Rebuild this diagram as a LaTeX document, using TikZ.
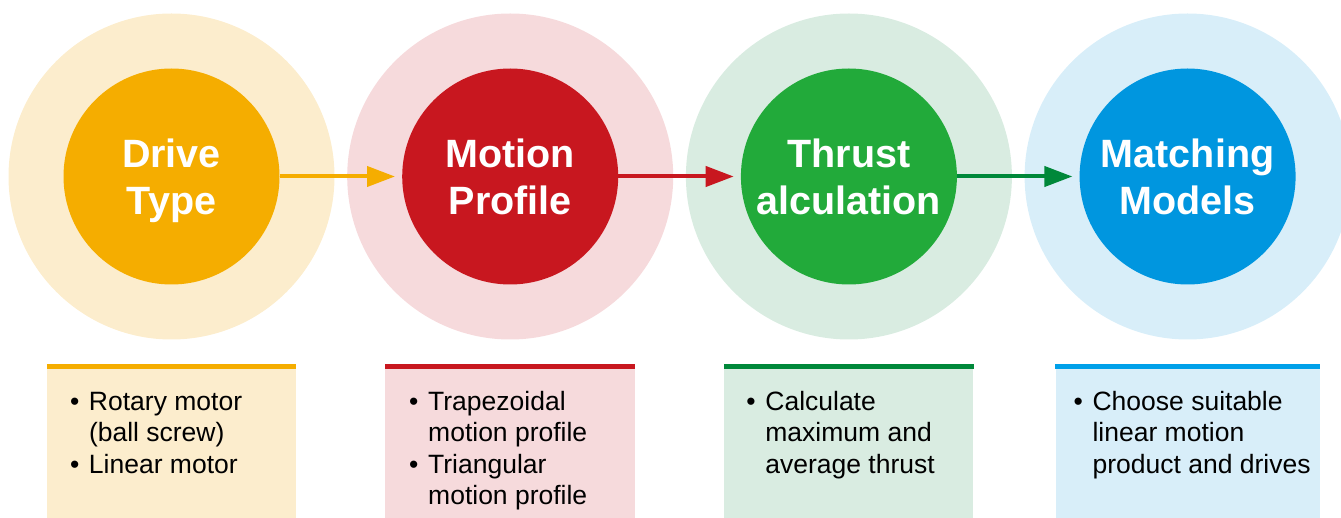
\documentclass[tikz,border=0pt]{standalone}
\usepackage{fontspec}
\setmainfont{Liberation Sans}
\usetikzlibrary{arrows.meta}
\usetikzlibrary{positioning}

\definecolor{drivecol}{HTML}{F5AD00}
\definecolor{drivelight}{HTML}{FCEDCD}
\definecolor{motioncol}{HTML}{C8171F}
\definecolor{motionlight}{HTML}{F6DADC}
\definecolor{thrustcol}{HTML}{22AA3A}
\definecolor{thrustdark}{HTML}{00883A}
\definecolor{thrustlight}{HTML}{D9ECE1}
\definecolor{matchcol}{HTML}{0096DF}
\definecolor{matchline}{HTML}{00A0E9}
\definecolor{matchlight}{HTML}{D8EEF9}

\newcommand{\bulitem}{\makebox[19pt][l]{\textbullet}}
\newcommand{\bulcont}{\hspace*{19pt}}

\begin{document}
\begin{tikzpicture}[x=1pt, y=1pt,
    node distance=12.3pt,
    halo/.style={circle, minimum size=326pt, inner sep=0pt},
    core/.style={circle, minimum size=216pt, inner sep=0pt, text=white, align=center, font=\bfseries\fontsize{39.5}{47}\selectfont},
    box/.style={rectangle, minimum height=151.5pt, inner sep=0pt},
    topline/.style={line width=5pt},
    bullets/.style={anchor=base west, align=left, inner sep=0pt, font=\fontsize{26.5}{31.5}\selectfont},
    arrow/.style={line width=4pt, -{Triangle[length=28pt,width=20pt]}, shorten >=7pt},
    ]

    \useasboundingbox (0,0) rectangle (1341,-518);

    % Drive type
    \node[halo, fill=drivelight] (drive-o) at (171.5,-176.5) {};
    \node[core, fill=drivecol] (drive) at (drive-o) {Drive\\\smash{Type}};

    % Motion profile
    \node[halo, fill=motionlight, right=of drive-o] (motion-o) {};
    \node[core, fill=motioncol] (motion) at (motion-o) {Motion\\Profile};

    % Thrust calculation
    \node[halo, fill=thrustlight, right=of motion-o] (thrust-o) {};
    \node[core, fill=thrustcol] (thrust) at (thrust-o) {Thrust\\alculation};

    % Matching models
    \node[halo, fill=matchlight, right=of thrust-o] (match-o) {};
    \node[core, fill=matchcol] (match) at (match-o) {Matching\\Models};

    % Arrows between steps
    \draw[arrow, drivecol] (drive) -- (motion);
    \draw[arrow, motioncol] (motion) -- (thrust);
    \draw[arrow, thrustdark] (thrust) -- (match);

    % Boxes below (text anchored at the baseline of its last line)
    \node[box, fill=drivelight, minimum width=249pt, below=27pt of drive-o] (drive-b) {};
    \draw[topline, drivecol] (drive-b.north west) -- (drive-b.north east);
    \node[bullets] (drive-t) at ([xshift=23pt, yshift=-106.5pt]drive-b.north west)
        {\bulitem Rotary motor\\\bulcont (ball screw)\\\bulitem Linear motor};

    \node[box, fill=motionlight, minimum width=250pt, below=27pt of motion-o] (motion-b) {};
    \draw[topline, motioncol] (motion-b.north west) -- (motion-b.north east);
    \node[bullets] (motion-t) at ([xshift=24pt, yshift=-138pt]motion-b.north west)
        {\bulitem Trapezoidal\\\bulcont motion profile\\\bulitem Triangular\\\bulcont motion profile};

    \node[box, fill=thrustlight, minimum width=249pt, below=27pt of thrust-o] (thrust-b) {};
    \draw[topline, thrustdark] (thrust-b.north west) -- (thrust-b.north east);
    \node[bullets] (thrust-t) at ([xshift=22pt, yshift=-106.5pt]thrust-b.north west)
        {\bulitem Calculate\\\bulcont maximum and\\\bulcont average thrust};

    \node[box, fill=matchlight, minimum width=264pt, below=27pt of match-o] (match-b) {};
    \draw[topline, matchline] (match-b.north west) -- (match-b.north east);
    \node[bullets] (match-t) at ([xshift=18pt, yshift=-106.5pt]match-b.north west)
        {\bulitem Choose suitable\\\bulcont linear motion\\\bulcont product and drives};

\end{tikzpicture}
\end{document}
